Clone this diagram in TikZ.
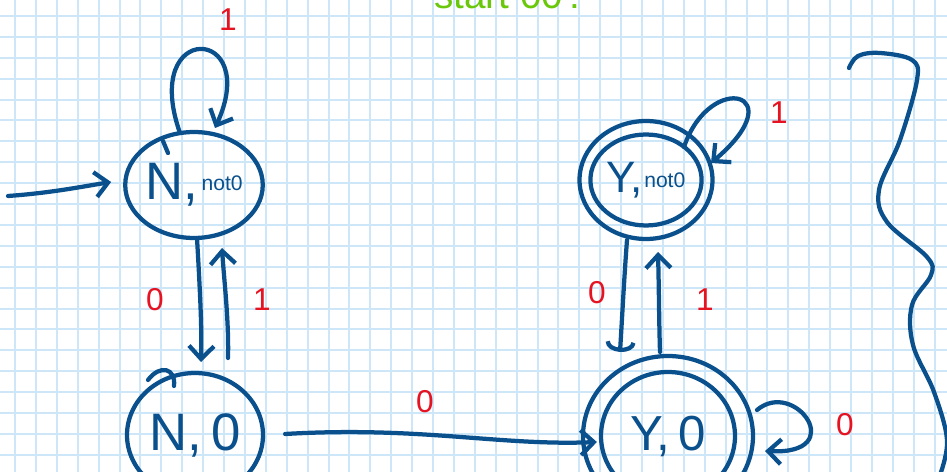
\documentclass[tikz,border=0pt]{standalone}
\usepackage{fontspec}
\setmainfont{Liberation Sans}
\usetikzlibrary{arrows.meta,shapes.geometric}
\definecolor{ink}{RGB}{10,80,140}
\definecolor{redink}{RGB}{230,20,35}
\definecolor{greenink}{RGB}{105,200,10}
\definecolor{gridblue}{RGB}{205,230,248}
\newcommand{\bigtxt}[1]{{\fontsize{30}{30}\selectfont #1}}
\newcommand{\smalltxt}[1]{{\fontsize{12}{12}\selectfont #1}}
\begin{document}
\begin{tikzpicture}[x=0.02cm,y=-0.02cm,
  pen/.style={draw=ink, line width=0.085cm, line cap=round, line join=round},
  arr/.style={pen, -{Straight Barb[length=0.26cm,width=0.5cm]}},
  hookarr/.style={pen, -{Arc Barb[length=0.2cm,width=0.6cm]}},
  state/.style={ellipse, draw=ink, line width=0.085cm, inner sep=0pt, text=ink},
  ring/.style={pen},
  lbl/.style={text=redink, inner sep=0pt, font=\fontsize{18}{18}\selectfont},
  gridline/.style={draw=gridblue, line width=0.04cm}
]
\useasboundingbox (0,0) rectangle (947,472);
\clip (0,0) rectangle (947,472);
\fill[white] (0,0) rectangle (947,472);

% squared paper
\foreach \k in {0,...,45} \draw[gridline] ({15+20.9*\k},0) -- ({15+20.9*\k},472);
\foreach \k in {0,...,22} \draw[gridline] (0,{16+20.9*\k}) -- (947,{16+20.9*\k});

% heading, running off the top edge
\node[text=greenink, anchor=base west, inner sep=0pt, font=\fontsize{22}{22}\selectfont] (head) at (434,9) {start 00\,:};

% states
\node[state, minimum width=2.68cm, minimum height=2.12cm] (nn) at (194,185)
  {\bigtxt{N,}\hspace{2pt}\raisebox{5pt}{\smalltxt{not0}}};
\draw[pen] (163,141) -- (168,153);
\node[state, minimum width=2.72cm, minimum height=2.48cm] (n0) at (195,435)
  {\bigtxt{N,\,0}};
\draw[pen] (148,380) .. controls (160,364) and (176,368) .. (174,386);
\node[state, minimum width=2.2cm, minimum height=1.82cm] (yn) at (646,180)
  {{\fontsize{25}{25}\selectfont Y,}\hspace{1pt}\raisebox{3pt}{\smalltxt{not0}}};
\draw[ring] (yn.center) ellipse [x radius=1.33cm, y radius=1.18cm];
\node[state, minimum width=2.68cm, minimum height=2.56cm] (y0) at (668,436)
  {{\fontsize{28}{28}\selectfont Y,\,0}};
\draw[ring] (y0.center) ellipse [x radius=1.7cm, y radius=1.6cm];

% initial arrow
\coordinate (start) at (8,196);
\draw[arr] (start) .. controls (50,193) and (80,187) .. ([shift={(-12,-3)}]nn.west);

% transitions
\draw[arr] ([shift={(-14,-52)}]nn.center) .. controls (140,20) and (262,25) .. ([shift={(21,-57)}]nn.center);
\draw[arr] ([shift={(3,53)}]nn.center) .. controls (200,290) and (202,330) .. ([shift={(6,-73)}]n0.center);
\draw[arr] ([shift={(33,-77)}]n0.center) .. controls (229,320) and (224,280) .. ([shift={(28,63)}]nn.center);
\draw[arr] ([shift={(20,-1)}]n0.east) .. controls (420,426) and (500,446) .. ([shift={(-2,6)}]y0.west);
\draw[hookarr] ([shift={(-19,60)}]yn.center) .. controls (624,280) and (622,320) .. ([shift={(-48,-84)}]y0.center);
\draw[arr] ([shift={(-8,-84)}]y0.center) .. controls (659,320) and (659,290) .. ([shift={(12,72)}]yn.center);
\draw[arr] ([shift={(38,-33)}]yn.center) .. controls (710,70) and (795,92) .. ([shift={(65,-17)}]yn.center);
\draw[arr] ([shift={(89,-26)}]y0.center) .. controls (795,378) and (850,455) .. ([shift={(97,15)}]y0.center);

% transition labels
\node[lbl] (l1) at (228,20) {1};
\node[lbl] (l2) at (155,300) {0};
\node[lbl] (l3) at (262,300) {1};
\node[lbl] (l4) at (425,402) {0};
\node[lbl] (l5) at (597,293) {0};
\node[lbl] (l6) at (705,300) {1};
\node[lbl] (l7) at (779,113) {1};
\node[lbl] (l8) at (845,425) {0};

% tall curly stroke at the right edge
\draw[pen] plot[smooth, tension=0.6] coordinates {(849,68) (858,56) (880,53) (912,60) (917,80) (900,140) (879,190) (887,222) (927,257) (931,275) (912,305) (913,345) (934,392) (947,440) (940,475)};
\end{tikzpicture}
\end{document}
